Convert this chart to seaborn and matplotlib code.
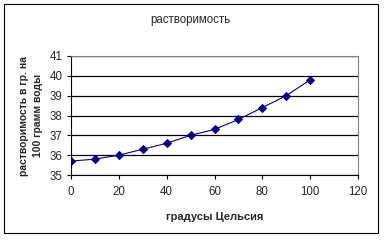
import matplotlib
matplotlib.use("Agg")
import matplotlib.pyplot as plt
from matplotlib.patches import Rectangle
import seaborn as sns
import pandas as pd

temperature = [0, 10, 20, 30, 40, 50, 60, 70, 80, 90, 100]
solubility = [35.7, 35.8, 36.0, 36.3, 36.6, 37.0, 37.3, 37.8, 38.4, 39.0, 39.8]
x_ticks = [0, 20, 40, 60, 80, 100, 120]
y_ticks = [35, 36, 37, 38, 39, 40, 41]
title = "растворимость"
x_label = "градусы Цельсия"
y_label = "растворимость в гр. на\n100 грамм воды"

sns.set_style("white")
plt.rcParams['font.family'] = ['Liberation Sans', 'DejaVu Sans']

df = pd.DataFrame({"t": temperature, "s": solubility})

W, H = 387, 242
fig = plt.figure(figsize=(W / 100, H / 100), dpi=100)
fig.patch.set_facecolor("white")
fig.patches.append(Rectangle((4 / W, 9 / H), 374 / W, 229 / H, transform=fig.transFigure,
                             fill=False, edgecolor="black", linewidth=0.8))

ax = fig.add_axes([71 / W, (H - 175) / H, (358 - 71) / W, (175 - 56) / H])
ax.set_facecolor("white")
sns.lineplot(data=df, x="t", y="s", ax=ax, color="#000080", linewidth=0.8,
             marker="D", markersize=4, markeredgecolor="#000080", markerfacecolor="#000080", zorder=5)

ax.set_xlim(0, 120)
ax.set_ylim(35, 41)
ax.set_xticks(x_ticks)
ax.set_yticks(y_ticks)
ax.set_xticklabels([str(v) for v in x_ticks], fontsize=8.3)
ax.set_yticklabels([str(v) for v in y_ticks], fontsize=8.3)
ax.tick_params(axis="x", direction="out", length=3, width=0.8, color="black", pad=5, bottom=True)
ax.tick_params(axis="y", direction="out", length=3, width=0.8, color="black", pad=3, left=True)
ax.yaxis.grid(True, color="black", linewidth=0.9)
ax.xaxis.grid(False)
ax.set_axisbelow(True)
for s in ["left", "bottom"]:
    ax.spines[s].set_color("black")
    ax.spines[s].set_linewidth(0.8)
for s in ["top", "right"]:
    ax.spines[s].set_color("#808080")
    ax.spines[s].set_linewidth(0.8)

ax.set_xlabel(x_label, fontsize=8, fontweight="bold", labelpad=10)
ax.set_ylabel(y_label, fontsize=7.5, fontweight="bold", labelpad=5, linespacing=1.5)
fig.text(190 / W, (H - 20) / H, title, ha="center", va="center", fontsize=8.3)

fig.savefig("out.png", dpi=100)
